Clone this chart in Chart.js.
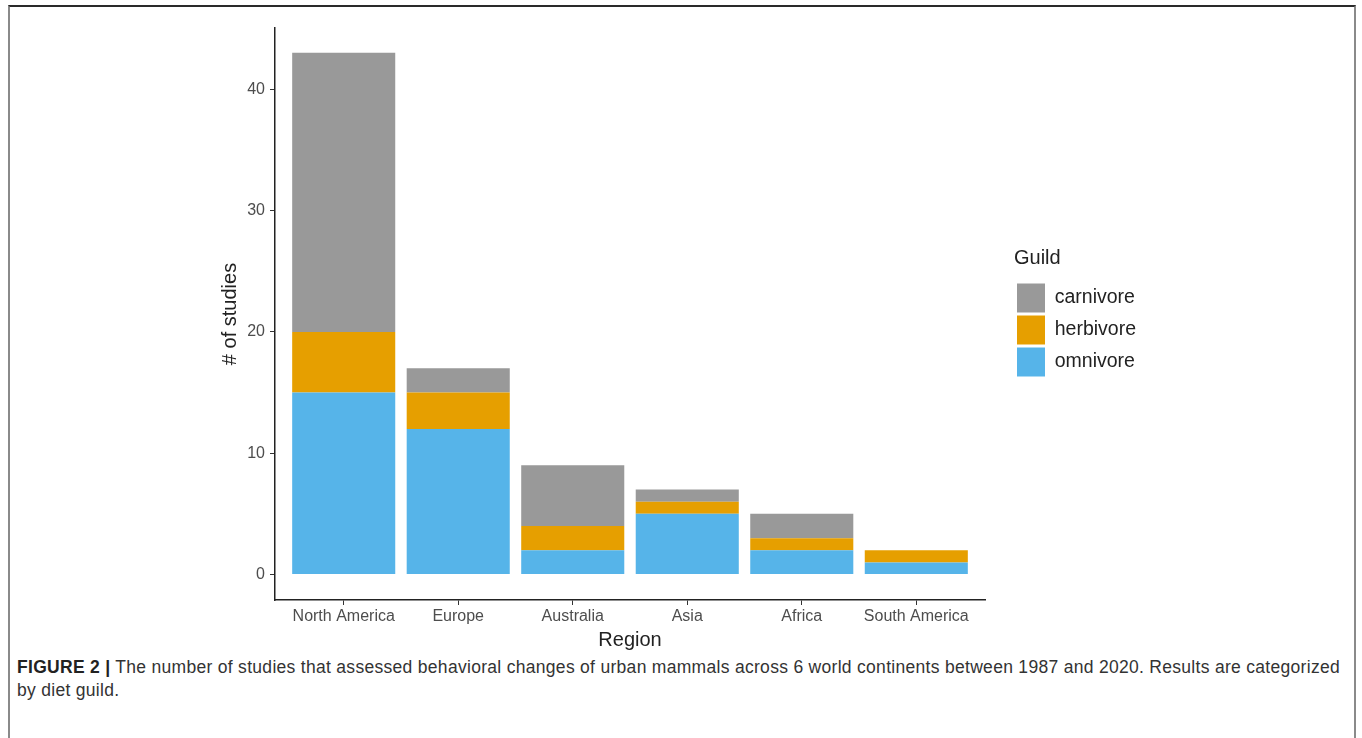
<!DOCTYPE html>
<html>
<head>
<meta charset="utf-8">
<script src="https://cdn.jsdelivr.net/npm/chart.js@4/dist/chart.umd.min.js"></script>
<style>
  html, body { margin:0; padding:0; background:#fff; width:1362px; height:738px; overflow:hidden; }
  #frame { position:absolute; left:8px; top:5px; width:1348px; height:760px; box-sizing:border-box;
           border-top:2px solid #2a2a2a; border-left:2px solid #8a8a8a; border-right:2px solid #8a8a8a; }
  #chart { position:absolute; left:0; top:0; }
  #caption { position:absolute; left:17px; top:656px; font-family:"Liberation Sans", Arial, Helvetica, sans-serif;
             font-size:17.5px; line-height:23px; color:#333; white-space:nowrap; }
  #caption b { color:#222; }
</style>
</head>
<body>
<div id="frame"></div>
<canvas id="chart" width="1362" height="655"></canvas>
<div id="caption"><span id="l1"><b>FIGURE 2 |</b> The number of studies that assessed behavioral changes of urban mammals across 6 world continents between 1987 and 2020. Results are categorized</span><br><span id="l2">by diet guild.</span></div>
<script>
const regions = ["North America", "Europe", "Australia", "Asia", "Africa", "South America"];
const omnivore  = [15, 12, 2, 5, 2, 1];
const herbivore = [5, 3, 2, 1, 1, 1];
const carnivore = [23, 2, 5, 1, 2, 0];
const yTicks = [0, 10, 20, 30, 40];

const FONT = "'Liberation Sans', Arial, Helvetica, sans-serif";
const toPts = arr => arr.map((v, i) => ({ x: i + 1, y: v }));

// stretch caption line 1 to the reference width
(function () {
  const l1 = document.getElementById('l1');
  const l2 = document.getElementById('l2');
  const w = l1.getBoundingClientRect().width;
  const n = l1.textContent.length;
  const ls = (1323 - w) / n;
  l1.style.letterSpacing = ls + 'px';
  l2.style.letterSpacing = ls + 'px';
})();

const target = { left: 275, right: 985, top: 28, bottom: 600 };
const pad = { left: 200, right: 230, top: 28, bottom: 10 };

const chart = new Chart(document.getElementById('chart'), {
  type: 'bar',
  data: {
    datasets: [
      { label: 'omnivore',  data: toPts(omnivore),  backgroundColor: '#56B4E9', yAxisID: 'y' },
      { label: 'herbivore', data: toPts(herbivore), backgroundColor: '#E69F00', yAxisID: 'y' },
      { label: 'carnivore', data: toPts(carnivore), backgroundColor: '#999999', yAxisID: 'y' }
    ]
  },
  options: {
    responsive: false,
    animation: false,
    events: [],
    barPercentage: 0.9,
    categoryPercentage: 1.0,
    layout: { padding: { ...pad } },
    plugins: {
      tooltip: { enabled: false },
      legend: {
        position: 'right',
        align: 'center',
        fullSize: false,
        reverse: true,
        title: { display: true, position: 'start', text: 'Guild', color: '#222', font: { family: FONT, size: 20 }, padding: { top: 0, bottom: 8 } },
        labels: { boxWidth: 28, boxHeight: 29, padding: 3, color: '#222', font: { family: FONT, size: 19.5 } }
      }
    },
    scales: {
      x: {
        type: 'linear',
        min: 0.4, max: 6.6,
        offset: false,
        stacked: true,
        afterBuildTicks: s => { s.ticks = regions.map((r, i) => ({ value: i + 1 })); },
        ticks: {
          autoSkip: false, maxRotation: 0, padding: 2, color: '#4d4d4d',
          font: { family: FONT, size: 16 },
          callback: v => regions[Math.round(v) - 1]
        },
        grid: { display: true, offset: false, drawOnChartArea: false, drawTicks: true, tickLength: 5, color: '#333', lineWidth: 1 },
        border: { display: true, color: '#222', width: 1.5 },
        title: { display: true, text: 'Region', color: '#222', font: { family: FONT, size: 20 }, padding: { top: 0, bottom: 0 } }
      },
      y: {
        type: 'linear',
        position: 'left',
        min: -2.1, max: 45.05,
        stacked: true,
        afterBuildTicks: s => { s.ticks = yTicks.map(v => ({ value: v })); },
        ticks: { padding: 5, color: '#4d4d4d', font: { family: FONT, size: 16 } },
        grid: { display: true, drawOnChartArea: false, drawTicks: true, tickLength: 5, color: '#333', lineWidth: 1 },
        border: { display: true, color: '#222', width: 1.5 },
        title: { display: true, text: '# of studies', color: '#222', font: { family: FONT, size: 20 }, padding: { top: 0, bottom: 0 } }
      },
      y2: {
        type: 'linear',
        position: 'right',
        display: true,
        grid: { display: false },
        border: { display: false },
        ticks: { display: false },
        afterFit: s => { s.width = 29; }
      }
    }
  }
});

for (let k = 0; k < 4; k++) {
  const a = chart.chartArea;
  pad.left += target.left - a.left;
  pad.right += a.right - target.right;
  pad.top += target.top - a.top;
  pad.bottom += a.bottom - target.bottom;
  chart.options.layout.padding = { ...pad };
  chart.update('none');
}
</script>
</body>
</html>
